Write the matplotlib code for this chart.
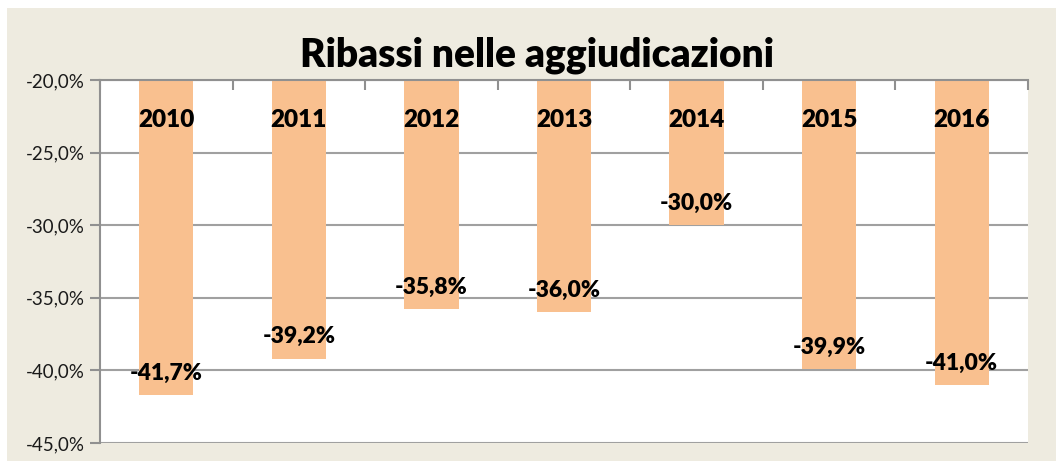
import matplotlib
matplotlib.use("Agg")
import matplotlib.pyplot as plt
from matplotlib.patches import Rectangle
from matplotlib.ticker import FixedLocator

years = ["2010", "2011", "2012", "2013", "2014", "2015", "2016"]
values = [-41.7, -39.2, -35.8, -36.0, -30.0, -39.9, -41.0]
yticks = [-45, -40, -35, -30, -25, -20]
ytick_labels = ["-45,0%", "-40,0%", "-35,0%", "-30,0%", "-25,0%", "-20,0%"]
title = "Ribassi nelle aggiudicazioni"

plt.rcParams['font.family'] = ['Lato', 'DejaVu Sans']

W, H = 1056, 461
fig = plt.figure(figsize=(W / 100, H / 100), dpi=100)
fig.patch.set_facecolor("white")
bg = Rectangle((7 / W, 0), 1 - 7 / W, 1 - 8 / H, transform=fig.transFigure,
               facecolor="#EEEBE0", edgecolor="none", zorder=-10)
fig.patches.append(bg)

ax = fig.add_axes([100 / W, 1 - 443 / H, (1028 - 100) / W, (443 - 80) / H])
ax.set_zorder(5)
ax.set_facecolor("white")

base = -20
x = list(range(len(years)))
heights = [v - base for v in values]
ax.bar(x, heights, bottom=base, width=0.41, color="#F9C08F", zorder=2)

ax.set_xlim(-0.5, len(years) - 0.5)
ax.set_ylim(-45, -20)
ax.set_yticks(yticks)
ax.set_yticklabels(ytick_labels)
ax.yaxis.grid(True, color="#A0A0A0", linewidth=1.5, zorder=1)
ax.set_axisbelow(True)

for s in ["right", "bottom"]:
    ax.spines[s].set_visible(False)
for s in ["left", "top"]:
    ax.spines[s].set_color("#909090")
    ax.spines[s].set_linewidth(1.5)

ax.tick_params(axis="y", length=7, width=1.5, color="#909090", labelsize=13.5,
               labelcolor="#1a1a1a", pad=4)
ax.xaxis.tick_top()
ax.xaxis.set_major_locator(FixedLocator([i - 0.5 for i in range(len(years) + 1)]))
ax.tick_params(axis="x", direction="in", length=7, width=1.5, color="#909090",
               labeltop=False, labelbottom=False)

for xi, yr, v in zip(x, years, values):
    ax.annotate(yr, (xi, base), xytext=(0, -40 * 0.72), textcoords="offset points",
                ha="center", va="center", fontsize=17.5, fontweight="heavy", color="black", zorder=3)
    ax.annotate(f"{v:.1f}%".replace(".", ","), (xi, v), xytext=(0, 22 * 0.72),
                textcoords="offset points", ha="center", va="center",
                fontsize=16.5, fontweight="heavy", color="black", zorder=3)

fig.text(537 / W, 1 - 55 / H, title, ha="center", va="center", fontsize=28,
         fontweight="heavy", color="black")

fig.savefig("out.png", dpi=100)
